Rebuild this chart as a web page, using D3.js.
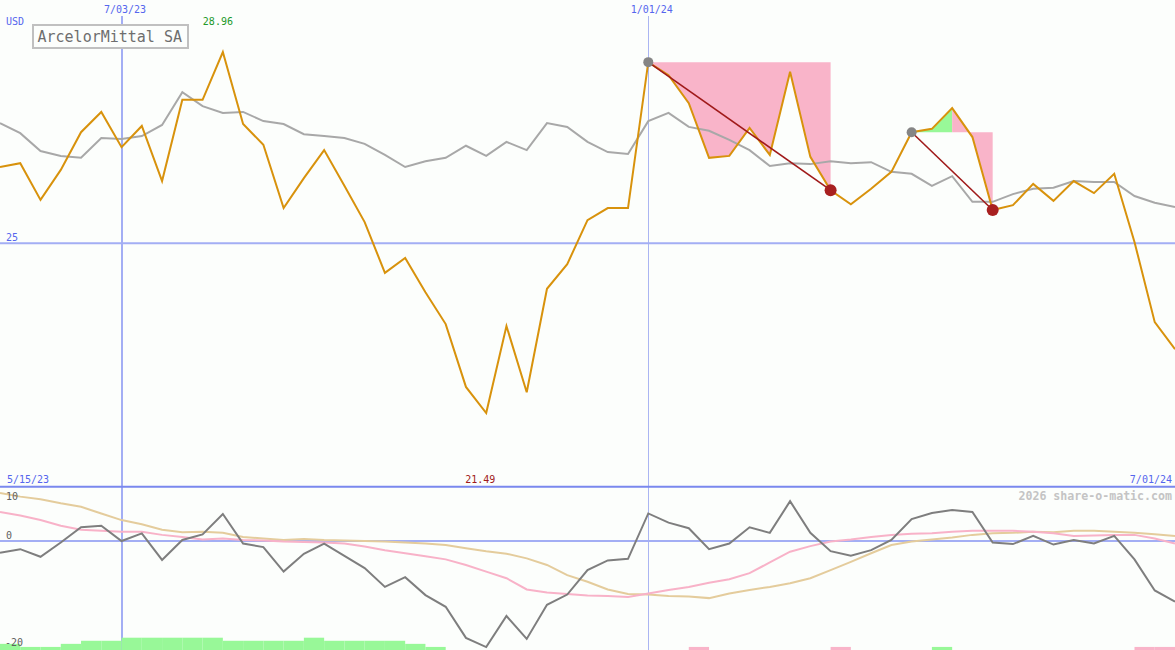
<!DOCTYPE html>
<html><head><meta charset="utf-8">
<script src="https://cdn.jsdelivr.net/npm/d3@7"></script>
<style>html,body{margin:0;padding:0;background:#fcfefc;} svg{display:block;}</style>
</head><body><svg id="c" width="1175" height="650"></svg>
<script>
// ---------- data ----------
const firstWeek = "2023-05-22";
const weekCount = 59;
const rangeStartLabel = "5/15/23";
const rangeEndLabel = "7/01/24";
const currency = "USD";
const title = "ArcelorMittal SA";
const watermark = "2026 share-o-matic.com";

const xTickDates = ["2023-07-03", "2024-01-01"];
const xTickLabels = ["7/03/23", "1/01/24"];
const yTicks = [25];
const lowerTicks = [10, 0, -20];

const price = [26.58,26.66,25.90,26.52,27.30,27.72,26.99,27.43,26.29,27.97,
  27.97,28.96,27.47,27.04,25.73,26.35,26.93,26.19,25.44,24.39,
  24.70,23.99,23.33,22.03,21.49,23.29,21.92,24.06,24.57,25.48,
  25.73,25.73,28.75,28.48,27.90,26.77,26.81,27.39,26.83,28.55,
  26.79,26.10,25.81,26.13,26.48,27.30,27.37,27.80,27.20,25.69,
  25.79,26.23,25.88,26.29,26.04,26.44,25.03,23.37,22.81];

const average = [27.49,27.28,26.91,26.81,26.77,27.18,27.16,27.22,27.45,28.13,
  27.84,27.70,27.72,27.53,27.47,27.26,27.22,27.18,27.06,26.83,
  26.58,26.70,26.77,27.02,26.81,27.10,26.93,27.49,27.41,27.10,
  26.89,26.85,27.53,27.70,27.41,27.33,27.14,26.93,26.60,26.66,
  26.64,26.70,26.66,26.68,26.48,26.44,26.19,26.39,25.86,25.86,
  26.02,26.13,26.15,26.29,26.27,26.27,25.98,25.84,25.75];

const momentum = [-2.3,-1.6,-3.1,-0.3,2.7,3.0,0,1.5,-3.7,0.2,
  1.3,5.3,-0.5,-1.2,-6.0,-2.5,-0.5,-2.9,-5.3,-9.0,
  -7.1,-10.6,-12.9,-19.0,-20.8,-14.7,-19.2,-12.5,-10.5,-5.7,
  -3.8,-3.5,5.4,3.6,2.5,-1.6,-0.5,2.7,1.6,7.8,
  1.6,-2.0,-2.9,-1.8,0.2,4.3,5.5,6.1,5.7,-0.3,
  -0.6,1.0,-0.7,0.2,-0.5,1.0,-3.6,-9.7,-11.9];

const fastSignal = [5.7,5.0,4.1,3.0,2.2,2.0,1.8,1.8,1.2,0.8,
  0.3,0.5,0.2,0.1,-0.1,-0.2,-0.3,-0.5,-1.1,-1.8,
  -2.4,-3.0,-3.6,-4.7,-6.0,-7.3,-9.5,-10.1,-10.4,-10.7,
  -10.8,-11.0,-10.3,-9.6,-9.0,-8.2,-7.5,-6.3,-4.2,-2.1,
  -1.0,-0.1,0.3,0.8,1.2,1.4,1.5,1.8,2.0,2.0,
  2.0,1.8,1.5,1.0,1.1,1.2,1.2,0.5,-0.5];

const slowSignal = [9.4,8.7,8.2,7.4,6.7,5.4,4.1,3.3,2.2,1.7,
  1.8,1.6,0.8,0.5,0.2,0.4,0.2,0.1,0,-0.1,
  -0.3,-0.5,-0.8,-1.4,-2.0,-2.5,-3.4,-4.7,-6.7,-8.0,
  -9.5,-10.4,-10.5,-10.8,-10.9,-11.2,-10.3,-9.6,-9.0,-8.3,
  -7.3,-5.7,-4.1,-2.4,-0.8,-0.1,0.3,0.7,1.2,1.5,
  1.6,1.8,1.7,2.0,2.0,1.8,1.6,1.3,1.0];

// +: green strength, -: pink strength
const strength = [2,1,1,2,3,3,4,4,4,4,
  4,3,3,3,3,4,3,3,3,3,
  2,1,0,0,0,0,0,0,0,0,
  0,0,0,0,-1,0,0,0,0,0,
  0,-1,0,0,0,0,1,0,0,0,
  0,0,0,0,0,0,-1,-1,-1];

const drawdownStarts = ["2024-01-01", "2024-04-01"];
const drawdownEnds   = ["2024-03-04", "2024-04-29"];

// ---------- setup ----------
const parse = d3.utcParse("%Y-%m-%d");
const t0 = parse(firstWeek);
const dates = d3.range(weekCount).map(i => d3.utcDay.offset(t0, 7 * i));
const idxOf = s => d3.bisectLeft(dates.map(d => +d), +parse(s));

const svg = d3.select("#c");
const W = 1175, H = 650;
const FONT = "'DejaVu Sans Mono', monospace";
const BLUE = "#5566ee";

svg.append("rect").attr("width", W).attr("height", H).attr("fill", "#fcfefc");

const x = d3.scaleUtc().domain([dates[0], dates[dates.length - 1]]).range([0, 1175]);
const y = d3.scaleLinear().domain([d3.min(price), d3.max(price)]).range([413, 52]);
const y2 = d3.scaleLinear().domain([-20, 10]).range([643, 490]);
const hb = d3.scaleLinear().domain([0, 4]).range([0, 12.3]);

// ---------- grid ----------
const g = svg.append("g");
xTickDates.forEach((s, i) => {
  const xx = Math.round(x(parse(s))) + (i === 0 ? 0 : 0.5);
  g.append("line").attr("x1", xx).attr("x2", xx).attr("y1", 16).attr("y2", H)
    .attr("stroke", i === 0 ? "#a3aef4" : "#aab5f2").attr("stroke-width", i === 0 ? 2 : 1);
  svg.append("text").attr("x", x(parse(s)) + 3.5).attr("y", 13).attr("text-anchor", "middle")
    .attr("font-family", FONT).attr("font-size", 10).attr("fill", BLUE).text(xTickLabels[i]);
});
yTicks.forEach(v => {
  g.append("line").attr("x1", 0).attr("x2", W).attr("y1", y(v)).attr("y2", y(v))
    .attr("stroke", "#a3aef4").attr("stroke-width", 2);
  svg.append("text").attr("x", 6).attr("y", y(v) - 2).attr("font-family", FONT)
    .attr("font-size", 10).attr("fill", BLUE).text(v);
});
// separator
g.append("line").attr("x1", 0).attr("x2", W).attr("y1", 486.8).attr("y2", 486.8)
  .attr("stroke", "#7a88ee").attr("stroke-width", 2);
// zero line lower
g.append("line").attr("x1", 0).attr("x2", W).attr("y1", y2(0)).attr("y2", y2(0))
  .attr("stroke", "#a3aef4").attr("stroke-width", 2);

// ---------- drawdown fills ----------
const fills = svg.append("g");
drawdownStarts.forEach((s, k) => {
  const si = idxOf(s), ei = idxOf(drawdownEnds[k]);
  const level = price[si];
  let mi = si;
  for (let i = si; i <= ei; i++) if (price[i] > price[mi]) mi = i;
  const area = d3.area().x(i => x(dates[i])).y0(y(level)).y1(i => y(price[i]));
  if (mi > si) fills.append("path").attr("d", area(d3.range(si, mi + 1))).attr("fill", "#98f898");
  fills.append("path").attr("d", area(d3.range(mi, ei + 1))).attr("fill", "#f9b4c9");
});

// ---------- lines top ----------
const lineTop = arr => d3.line().x((d, i) => x(dates[i])).y(d => y(d))(arr);
svg.append("path").attr("d", lineTop(average)).attr("fill", "none")
  .attr("stroke", "#a8a8a8").attr("stroke-width", 2);
svg.append("path").attr("d", lineTop(price)).attr("fill", "none")
  .attr("stroke", "#d8920c").attr("stroke-width", 2);

drawdownStarts.forEach((s, k) => {
  const si = idxOf(s), ei = idxOf(drawdownEnds[k]);
  svg.append("line").attr("x1", x(dates[si])).attr("y1", y(price[si]))
    .attr("x2", x(dates[ei])).attr("y2", y(price[ei]))
    .attr("stroke", "#a01a1a").attr("stroke-width", 1.6);
  svg.append("circle").attr("cx", x(dates[si])).attr("cy", y(price[si])).attr("r", 5)
    .attr("fill", "#858585");
  svg.append("circle").attr("cx", x(dates[ei])).attr("cy", y(price[ei])).attr("r", 6)
    .attr("fill", "#a82020");
});

// max / min labels
const fmt = d3.format(".2f");
const iMax = d3.maxIndex(price), iMin = d3.minIndex(price);
svg.append("text").attr("x", x(dates[iMax]) - 20).attr("y", 25).attr("font-family", FONT)
  .attr("font-size", 10).attr("fill", "#22992a").text(fmt(price[iMax]));
svg.append("text").attr("x", x(dates[iMin]) - 21).attr("y", 483).attr("font-family", FONT)
  .attr("font-size", 10).attr("fill", "#a01a1a").text(fmt(price[iMin]));

// other texts
svg.append("text").attr("x", 6).attr("y", 25).attr("font-family", FONT).attr("font-size", 10)
  .attr("fill", BLUE).text(currency);
svg.append("text").attr("x", 7).attr("y", 483).attr("font-family", FONT).attr("font-size", 10)
  .attr("fill", BLUE).text(rangeStartLabel);
svg.append("text").attr("x", 1172).attr("y", 483).attr("text-anchor", "end").attr("font-family", FONT)
  .attr("font-size", 10).attr("fill", BLUE).text(rangeEndLabel);
svg.append("text").attr("x", 1172).attr("y", 500).attr("text-anchor", "end").attr("font-family", FONT)
  .attr("font-size", 11.6).attr("font-weight", "bold").attr("fill", "#c4c4c4").text(watermark);

// title box
svg.append("rect").attr("x", 33).attr("y", 25).attr("width", 155).attr("height", 23)
  .attr("fill", "#fcfefc").attr("stroke", "#c0c0c0").attr("stroke-width", 2);
svg.append("text").attr("x", 37.5).attr("y", 41.5).attr("font-family", FONT).attr("font-size", 15)
  .attr("fill", "#6e6e6e").text(title);

// ---------- lower panel ----------
const bars = svg.append("g");
strength.forEach((v, i) => {
  if (!v) return;
  const x0 = x(dates[i]);
  const x1 = i < dates.length - 1 ? x(dates[i + 1]) : W;
  const h = hb(Math.abs(v));
  bars.append("rect").attr("x", x0).attr("y", H - h).attr("width", x1 - x0).attr("height", h)
    .attr("fill", v > 0 ? "#98f898" : "#f9b4c9");
});

const lineLow = arr => d3.line().x((d, i) => x(dates[i])).y(d => y2(d))(arr);
svg.append("path").attr("d", lineLow(slowSignal)).attr("fill", "none")
  .attr("stroke", "#e4cc9c").attr("stroke-width", 2);
svg.append("path").attr("d", lineLow(fastSignal)).attr("fill", "none")
  .attr("stroke", "#f8b2c8").attr("stroke-width", 2);
svg.append("path").attr("d", lineLow(momentum)).attr("fill", "none")
  .attr("stroke", "#7e7e7e").attr("stroke-width", 2);

lowerTicks.forEach(v => {
  svg.append("text").attr("x", v < 0 ? 5 : 6).attr("y", v === 10 ? y2(v) + 10 : (v === 0 ? y2(v) - 2.5 : y2(v) + 3))
    .attr("font-family", FONT).attr("font-size", 10).attr("fill", "#606060").text(v === -20 ? "-20" : v);
});
</script></body></html>
